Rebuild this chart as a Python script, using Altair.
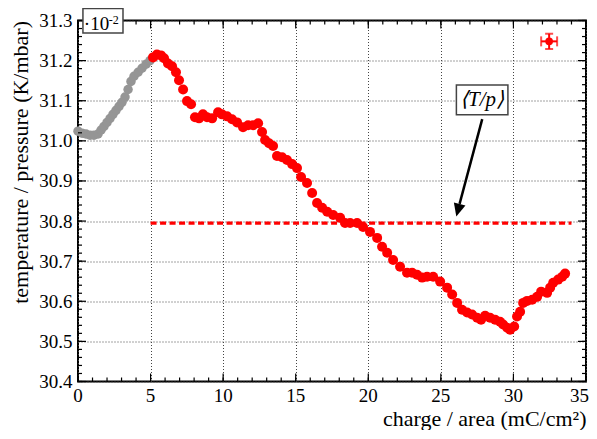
import altair as alt
import pandas as pd

# ---------------- data ----------------
gray_x = [0.00, 0.28, 0.55, 0.83, 1.10, 1.38, 1.59, 1.79, 2.00, 2.21, 2.41, 2.62,
          2.83, 3.03, 3.24, 3.45, 3.65, 3.86, 4.14, 4.41, 4.69, 4.96]
gray_y = [31.024, 31.019, 31.017, 31.014, 31.014, 31.017, 31.027, 31.036, 31.046,
          31.056, 31.066, 31.076, 31.086, 31.096, 31.109, 31.128, 31.148, 31.161,
          31.171, 31.181, 31.191, 31.200]

red_x = [5.17, 5.44, 5.72, 5.93, 6.20, 6.48, 6.75, 6.96, 7.24, 7.51, 7.79, 8.06,
         8.34, 8.61, 8.89, 9.24, 9.65, 9.92, 10.27, 10.61, 10.96, 11.37, 11.72,
         12.06, 12.41, 12.68, 12.89, 13.16, 13.44, 13.71, 14.06, 14.40, 14.75,
         15.09, 15.37, 15.78, 16.13, 16.47, 16.82, 17.17, 17.58, 18.06, 18.40,
         18.75, 19.23, 19.64, 20.12, 20.61, 20.95, 21.30, 21.71, 22.19, 22.67,
         23.02, 23.36, 23.71, 24.05, 24.47, 24.95, 25.43, 25.78, 26.12, 26.46,
         26.81, 27.15, 27.50, 27.77, 28.05, 28.39, 28.74, 29.08, 29.29, 29.57,
         29.77, 30.05, 30.25, 30.46, 30.67, 30.94, 31.29, 31.63, 31.91, 32.32,
         32.53, 32.74, 33.08, 33.36, 33.56]
red_y = [31.208, 31.215, 31.213, 31.206, 31.193, 31.186, 31.171, 31.151, 31.128,
         31.099, 31.091, 31.059, 31.056, 31.066, 31.059, 31.056, 31.071, 31.066,
         31.061, 31.054, 31.046, 31.034, 31.039, 31.039, 31.044, 31.022, 31.002,
         30.994, 30.987, 30.962, 30.959, 30.952, 30.942, 30.932, 30.910, 30.895,
         30.870, 30.845, 30.833, 30.823, 30.815, 30.808, 30.795, 30.795, 30.795,
         30.785, 30.773, 30.758, 30.736, 30.721, 30.703, 30.686, 30.671, 30.671,
         30.666, 30.659, 30.661, 30.661, 30.649, 30.634, 30.617, 30.596, 30.579,
         30.572, 30.567, 30.559, 30.554, 30.564, 30.559, 30.554, 30.549, 30.542,
         30.534, 30.529, 30.537, 30.562, 30.574, 30.596, 30.601, 30.604, 30.611,
         30.624, 30.621, 30.634, 30.646, 30.654, 30.661, 30.669]

mean_value = 30.795
mean_x_range = [5.0, 34.0]

err_x, err_y = 32.46, 31.248
err_dx, err_dy = 0.55, 0.019

x_tick_values = [0, 5, 10, 15, 20, 25, 30, 35]
x_tick_labels = ["0", "5", "10", "15", "20", "25", "30", "35"]
y_tick_values = [30.4, 30.5, 30.6, 30.7, 30.8, 30.9, 31.0, 31.1, 31.2, 31.3]
x_minor = [i for i in range(0, 36)]
y_minor = [round(30.4 + 0.02 * i, 2) for i in range(0, 46)]

annot_text = "\u27e8T/p\u27e9"
exp_text = "\u00b710"
exp_sup = "-2"

# ---------------- layout / styling ----------------
W, H = 508, 361
FONT = "Liberation Serif"

xs = alt.Scale(domain=[0, 35], nice=False, zero=False)
ys = alt.Scale(domain=[30.4, 31.3], nice=False, zero=False)

xaxis = alt.Axis(values=x_tick_values, grid=True, labels=False,
                 title="charge / area (mC/cm\u00b2)", titleAnchor="end",
                 titleBaseline="alphabetic", titleY=44)
yaxis = alt.Axis(values=y_tick_values, format=".1f", grid=True,
                 title="temperature / pressure (K/mbar)", titleAnchor="end",
                 labelPadding=6, titlePadding=6)


def X(f):
    return alt.X(f, type="quantitative", scale=xs, axis=xaxis)


def Y(f):
    return alt.Y(f, type="quantitative", scale=ys, axis=yaxis)


gray_df = pd.DataFrame({"x": gray_x, "y": gray_y})
red_df = pd.DataFrame({"x": red_x, "y": red_y})

gray = alt.Chart(gray_df).mark_circle(size=90, color="#959595", opacity=1).encode(
    x=X("x"), y=Y("y"))
red = alt.Chart(red_df).mark_circle(size=100, color="#ff0000", opacity=1).encode(
    x=X("x"), y=Y("y"))

mean_df = pd.DataFrame({"x1": [mean_x_range[0]], "x2": [mean_x_range[1]], "y": [mean_value]})
mean_line = alt.Chart(mean_df).mark_rule(color="#ff0000", strokeWidth=3.3,
                                          strokeDash=[6, 3.5]).encode(
    x=X("x1"), x2="x2", y=Y("y"))

# error-bar marker (top right)
eb_df = pd.DataFrame({"x": [err_x], "y": [err_y],
                      "xl": [err_x - err_dx], "xh": [err_x + err_dx],
                      "yl": [err_y - err_dy], "yh": [err_y + err_dy]})
eb_h = alt.Chart(eb_df).mark_rule(color="#ff0000", strokeWidth=2).encode(
    x=X("xl"), x2="xh", y=Y("y"))
eb_v = alt.Chart(eb_df).mark_rule(color="#ff0000", strokeWidth=2).encode(
    x=X("x"), y=Y("yl"), y2="yh")
eb_pt = alt.Chart(eb_df).mark_circle(size=60, color="#ff0000", opacity=1).encode(
    x=X("x"), y=Y("y"))
cap_l = alt.Chart(eb_df).mark_tick(color="#ff0000", orient="vertical", size=10, thickness=2).encode(
    x=X("xl"), y=Y("y"))
cap_r = alt.Chart(eb_df).mark_tick(color="#ff0000", orient="vertical", size=10, thickness=2).encode(
    x=X("xh"), y=Y("y"))
cap_b = alt.Chart(eb_df).mark_tick(color="#ff0000", orient="horizontal", size=8, thickness=2).encode(
    x=X("x"), y=Y("yl"))
cap_t = alt.Chart(eb_df).mark_tick(color="#ff0000", orient="horizontal", size=8, thickness=2).encode(
    x=X("x"), y=Y("yh"))

# annotation box <T/p> with arrow
box_df = pd.DataFrame({"x1": [26.07], "x2": [29.62], "y1": [31.065], "y2": [31.139],
                       "tx": [27.84], "ty": [31.102], "t": [annot_text]})
box = alt.Chart(box_df).mark_rect(fill="white", stroke="#444444", strokeWidth=1.5).encode(
    x=X("x1"), x2="x2", y=Y("y1"), y2="y2")
box_text = alt.Chart(box_df).mark_text(font=FONT, fontSize=21, fontStyle="italic",
                                       color="black", baseline="middle", align="center").encode(
    x=X("tx"), y=Y("ty"), text="t:N")

arrow_df = pd.DataFrame({"xa": [27.85], "ya": [31.054], "xb": [26.29], "yb": [30.843],
                         "hx": [26.18], "hy": [30.827]})
arrow = alt.Chart(arrow_df).mark_rule(color="black", strokeWidth=2.5).encode(
    x=X("xa"), x2="xb", y=Y("ya"), y2="yb")
head = alt.Chart(arrow_df).mark_point(shape="M-0.92,-1L0.92,-1L0,1Z", size=169, angle=15,
                                      filled=True, color="black", opacity=1).encode(
    x=X("hx"), y=Y("hy"))

# exponent box top-left
exp_df = pd.DataFrame({"x1": [0.34], "x2": [3.10], "y1": [31.269], "y2": [31.330],
                       "tx": [0.40], "ty": [31.276], "sx": [2.12], "sy": [31.292],
                       "t": [exp_text], "s": [exp_sup]})
exp_box = alt.Chart(exp_df).mark_rect(fill="white", stroke="#444444", strokeWidth=1.5).encode(
    x=X("x1"), x2="x2", y=Y("y1"), y2="y2")
exp_t = alt.Chart(exp_df).mark_text(font=FONT, fontSize=19, color="black",
                                    align="left", baseline="alphabetic").encode(
    x=X("tx"), y=Y("ty"), text="t:N")
exp_s = alt.Chart(exp_df).mark_text(font=FONT, fontSize=12, color="black",
                                    align="left", baseline="alphabetic").encode(
    x=X("sx"), y=Y("sy"), text="s:N")

# x tick labels (last one kept inside the canvas)
xl_df = pd.DataFrame({"x": x_tick_values[:-1], "t": x_tick_labels[:-1]})
xl_last = pd.DataFrame({"x": x_tick_values[-1:], "t": x_tick_labels[-1:]})
xlabels = alt.Chart(xl_df).mark_text(font=FONT, fontSize=19, color="black", baseline="top",
                                     align="center").encode(
    x=X("x"), y=alt.value(H + 5), text="t:N")
xlabel_last = alt.Chart(xl_last).mark_text(font=FONT, fontSize=19, color="black", baseline="top",
                                           align="right", dx=3).encode(
    x=X("x"), y=alt.value(H + 5), text="t:N")

# inward tick marks on all four sides
xmaj = pd.DataFrame({"x": x_tick_values})
xmin = pd.DataFrame({"x": x_minor})
ymaj = pd.DataFrame({"y": y_tick_values})
ymin = pd.DataFrame({"y": y_minor})


def xtick(df, length, top):
    if top:
        yy, yy2 = alt.value(0), alt.value(length)
    else:
        yy, yy2 = alt.value(H), alt.value(H - length)
    return alt.Chart(df).mark_rule(color="black", strokeWidth=1.2).encode(
        x=X("x"), y=yy, y2=yy2)


def ytick(df, length, right):
    if right:
        xx, xx2 = alt.value(W), alt.value(W - length)
    else:
        xx, xx2 = alt.value(0), alt.value(length)
    return alt.Chart(df).mark_rule(color="black", strokeWidth=1.2).encode(
        y=Y("y"), x=xx, x2=xx2)


ticks = [xtick(xmin, 4, False), xtick(xmin, 4, True), xtick(xmaj, 8, False), xtick(xmaj, 8, True),
         ytick(ymin, 4, False), ytick(ymin, 4, True), ytick(ymaj, 8, False), ytick(ymaj, 8, True)]

chart = alt.layer(
    gray, red, mean_line, *ticks,
    eb_h, eb_v, cap_l, cap_r, cap_b, cap_t, eb_pt,
    arrow, head, box, box_text,
    exp_box, exp_t, exp_s, xlabels, xlabel_last,
).properties(
    width=W, height=H,
    autosize=alt.AutoSizeParams(type="none"),
    padding={"left": 70, "top": 12.5, "right": 3, "bottom": 48.5},
    background="white",
).configure_view(
    stroke="black", strokeWidth=2
).configure_axis(
    labelFont=FONT, labelFontSize=19, labelColor="black",
    titleFont=FONT, titleFontSize=22, titleFontWeight="normal", titleColor="black",
    gridColor="#444444", gridDash=[1, 2], gridWidth=1, gridOpacity=1,
    ticks=False, domain=False,
)

chart.save("out.html", embed_options={"renderer": "svg", "actions": False})
